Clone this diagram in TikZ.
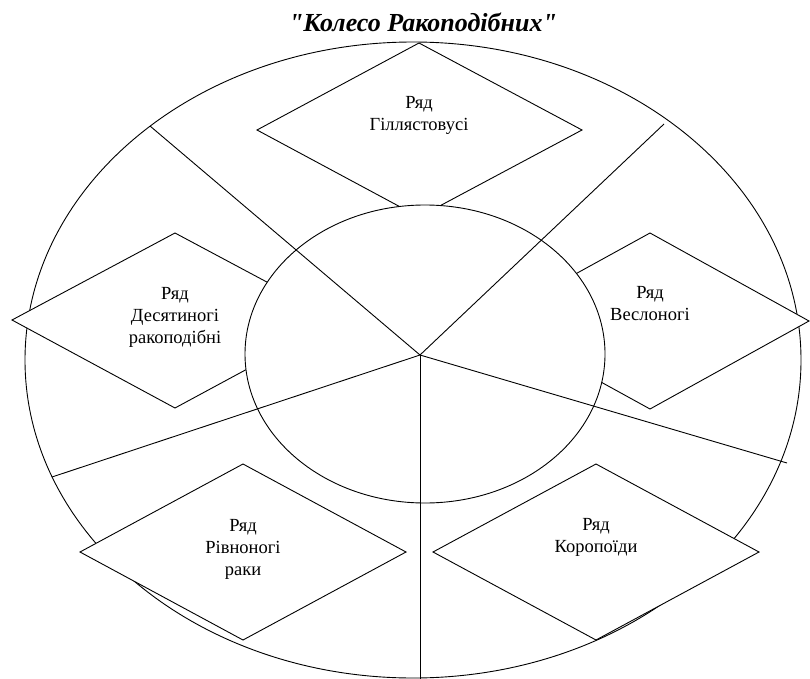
\documentclass[tikz,border=0pt]{standalone}
\usepackage{fontspec}
\setmainfont{Liberation Serif}
\newfontfamily\titlefont{Liberation Serif}
\begin{document}
\begin{tikzpicture}[x=1pt,y=-1pt,
  shape line/.style={line width=0.9pt,line join=miter},
  rhomb/.style={shape line,fill=white},
  lbl/.style={align=center,font=\fontsize{18.5}{22}\selectfont,inner sep=0pt,anchor=north},
  ray/.style={line width=0.9pt}]
\useasboundingbox (0,0) rectangle (810,679);
\begin{scope}
\clip (0,0) rectangle (810,679);
% outer ellipse
\draw[shape line] (413,360) ellipse [x radius=388, y radius=318];
% diamonds
\draw[rhomb] (419,43) -- (582,130) -- (419,217) -- (257,130) -- cycle;
\draw[rhomb] (175,233) -- (338,320) -- (175,408) -- (12,320) -- cycle;
\draw[rhomb] (650,233) -- (809,321) -- (650,409) -- (490,321) -- cycle;
\draw[rhomb] (243,464) -- (406,552) -- (243,640) -- (80,552) -- cycle;
\draw[rhomb] (596,464) -- (759,552) -- (596,640) -- (433,552) -- cycle;
% inner ellipse
\draw[shape line,fill=white] (425,354) ellipse [x radius=180, y radius=149];
% rays
\coordinate (c) at (420,355);
\coordinate (r1) at (150,126);
\coordinate (r2) at (664,124);
\coordinate (r3) at (787,463);
\coordinate (r4) at (52,477);
\coordinate (r5) at (420,679);
\draw[ray] (c) -- (r1);
\draw[ray] (c) -- (r2);
\draw[ray] (c) -- (r3);
\draw[ray] (c) -- (r4);
\draw[ray] (c) -- (r5);
\end{scope}
% labels
\node[lbl] (t1) at (419,96) {Ряд\\Гіллястовусі};
\node[lbl] (t2) at (175,287) {Ряд\\Десятиногі\\ракоподібні};
\node[lbl] (t3) at (650,286) {Ряд\\Веслоногі};
\node[lbl] (t4) at (243,519) {Ряд\\Рівноногі\\раки};
\node[lbl] (t5) at (596,518) {Ряд\\Коропоїди};
\node[font=\titlefont\fontsize{26}{30}\selectfont\bfseries\itshape,inner sep=0pt] (title) at (423,22) {"Колесо Ракоподібних"};
\end{tikzpicture}
\end{document}
